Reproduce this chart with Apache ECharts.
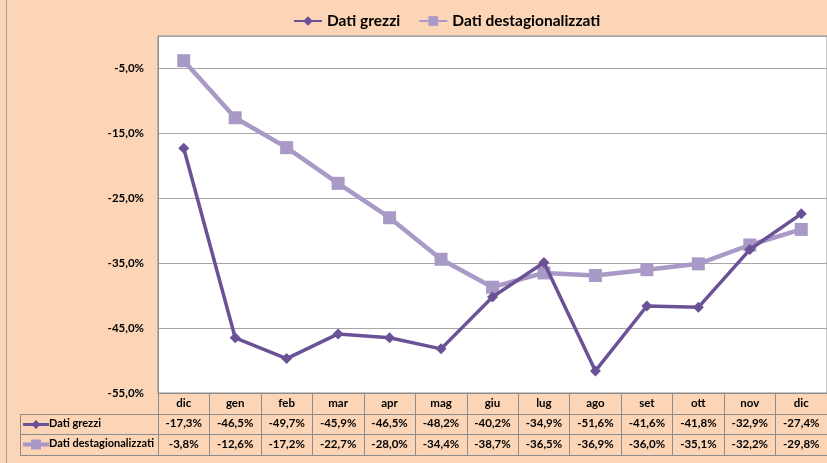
<!DOCTYPE html>
<html>
<head>
<meta charset="utf-8">
<script src="https://cdn.jsdelivr.net/npm/echarts@6/dist/echarts.min.js"></script>
<style>
html,body{margin:0;padding:0;background:#FBD5B6;}
#c{width:827px;height:463px;}
</style>
</head>
<body>
<div id="c"></div>
<script>
const categories = ['dic','gen','feb','mar','apr','mag','giu','lug','ago','set','ott','nov','dic'];
const seriesNames = ['Dati grezzi','Dati destagionalizzati'];
const datiGrezzi = [-17.3,-46.5,-49.7,-45.9,-46.5,-48.2,-40.2,-34.9,-51.6,-41.6,-41.8,-32.9,-27.4];
const datiDestag = [-3.8,-12.6,-17.2,-22.7,-28.0,-34.4,-38.7,-36.5,-36.9,-36.0,-35.1,-32.2,-29.8];
const yMin = -55, yMax = 0, yStep = 10;

const DARK = '#6B5296';
const LIGHT = '#A899C6';
const GRAY = '#8C8C8C';
const FONT = 'Lato';
const fmt = v => v.toFixed(1).replace('.', ',') + '%';

const chart = echarts.init(document.getElementById('c'));

const option = {
  backgroundColor: '#FBD5B6',
  animation: false,
  legend: {
    left: 288, top: 8, itemGap: 18, itemWidth: 28, itemHeight: 12,
    textStyle: {fontFamily: FONT, fontWeight: 'bold', fontSize: 15.5, color: '#000'},
    data: seriesNames
  },
  grid: {left: 158, top: 36, width: 681, height: 357, show: true, backgroundColor: '#fff',
    borderColor: GRAY, borderWidth: 1},
  xAxis: {
    type: 'category', data: categories, position: 'bottom', boundaryGap: true,
    axisLine: {show: true, onZero: false, lineStyle: {color: GRAY}},
    axisTick: {show: true, inside: false, interval: 0, length: 62, lineStyle: {color: GRAY}},
    axisLabel: {interval: 0, margin: 0, color: '#000', fontFamily: FONT, fontWeight: 'bold', fontSize: 11.5,
      lineHeight: 20.5, verticalAlign: 'top',
      formatter: (v, i) => v + '\n' + fmt(datiGrezzi[i]) + '\n' + fmt(datiDestag[i])}
  },
  yAxis: {
    type: 'value', min: yMin, max: yMax, interval: yStep,
    axisLine: {show: true, lineStyle: {color: GRAY}},
    axisTick: {show: false},
    splitLine: {lineStyle: {color: '#A6A6A6', width: 1}},
    axisLabel: {showMaxLabel: false, margin: 14, color: '#000', fontFamily: FONT, fontWeight: 'bold', fontSize: 11.5,
      formatter: v => fmt(v)}
  },
  series: [
    {
      name: seriesNames[0], type: 'line', data: datiGrezzi, symbol: 'diamond', symbolSize: 11,
      itemStyle: {color: DARK}, lineStyle: {color: DARK, width: 3.5}, z: 3
    },
    {
      name: seriesNames[1], type: 'line', data: datiDestag, symbol: 'rect', symbolSize: 13,
      itemStyle: {color: LIGHT}, lineStyle: {color: LIGHT, width: 4.5}, z: 2
    }
  ],
  graphic: [
    {type: 'line', shape: {x1: 6.5, y1: 0, x2: 6.5, y2: 463}, style: {stroke: '#B0A090', lineWidth: 1}},
    {type: 'line', shape: {x1: 20, y1: 414.5, x2: 827, y2: 414.5}, style: {stroke: GRAY, lineWidth: 1}},
    {type: 'line', shape: {x1: 20, y1: 434.5, x2: 827, y2: 434.5}, style: {stroke: GRAY, lineWidth: 1}},
    {type: 'line', shape: {x1: 20, y1: 455.5, x2: 827, y2: 455.5}, style: {stroke: GRAY, lineWidth: 1}},
    {type: 'line', shape: {x1: 20.5, y1: 414, x2: 20.5, y2: 455}, style: {stroke: GRAY, lineWidth: 1}},
    {type: 'line', shape: {x1: 23, y1: 424.5, x2: 49, y2: 424.5}, style: {stroke: DARK, lineWidth: 3}},
    {type: 'polygon', shape: {points: [[36, 420], [40.5, 424.5], [36, 429], [31.5, 424.5]]}, style: {fill: DARK}},
    {type: 'line', shape: {x1: 23, y1: 444.5, x2: 49, y2: 444.5}, style: {stroke: LIGHT, lineWidth: 4}},
    {type: 'rect', shape: {x: 31, y: 439.5, width: 10, height: 10}, style: {fill: LIGHT}},
    {type: 'text', left: 49, top: 418, style: {text: seriesNames[0], fill: '#000', font: 'bold 11px Lato'}},
    {type: 'text', left: 49, top: 438, style: {text: seriesNames[1], fill: '#000', font: 'bold 11px Lato'}}
  ]
};
chart.setOption(option);
</script>
</body>
</html>
